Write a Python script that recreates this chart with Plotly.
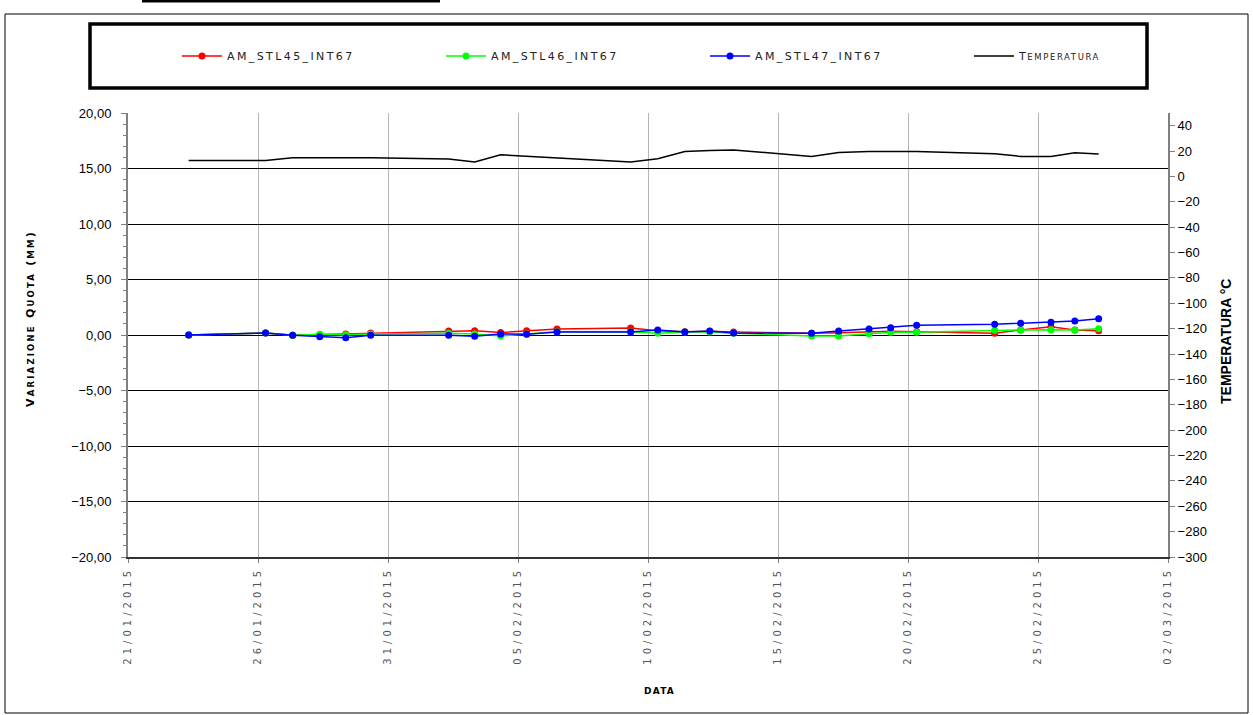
import plotly.graph_objects as go

# ---- data ----
dates = ["2015-01-23 08:00", "2015-01-26 07:00", "2015-01-27 08:00", "2015-01-28 09:00",
         "2015-01-29 09:00", "2015-01-30 08:00", "2015-02-02 08:00", "2015-02-03 08:00",
         "2015-02-04 08:00", "2015-02-05 08:00", "2015-02-06 12:00", "2015-02-09 08:00",
         "2015-02-10 09:00", "2015-02-11 10:00", "2015-02-12 09:00", "2015-02-13 07:00",
         "2015-02-16 07:00", "2015-02-17 08:00", "2015-02-18 12:00", "2015-02-19 08:00",
         "2015-02-20 08:00", "2015-02-23 08:00", "2015-02-24 08:00", "2015-02-25 12:00",
         "2015-02-26 10:00", "2015-02-27 08:00"]
stl45 = [0.00, 0.18, -0.03, 0.03, 0.09, 0.18, 0.36, 0.39, 0.22, 0.39, 0.54, 0.63, 0.39,
         0.30, 0.33, 0.27, 0.15, 0.20, 0.30, 0.33, 0.30, 0.15, 0.45, 0.75, 0.45, 0.39]
stl46 = [0.00, 0.18, -0.03, 0.06, 0.03, 0.09, 0.15, 0.09, -0.09, 0.09, 0.30, 0.30, 0.15,
         0.27, 0.27, 0.15, -0.08, -0.09, 0.12, 0.24, 0.24, 0.42, 0.45, 0.48, 0.45, 0.57]
stl47 = [0.00, 0.18, -0.03, -0.15, -0.24, -0.03, -0.03, -0.12, 0.09, 0.06, 0.27, 0.27, 0.45,
         0.27, 0.36, 0.18, 0.15, 0.36, 0.54, 0.66, 0.87, 0.96, 1.05, 1.14, 1.26, 1.47]

temp_dates = ["2015-01-23 08:00", "2015-01-26 07:00", "2015-01-27 08:00", "2015-01-30 08:00",
              "2015-02-02 08:00", "2015-02-03 08:00", "2015-02-04 08:00", "2015-02-09 08:00",
              "2015-02-10 09:00", "2015-02-11 10:00", "2015-02-12 09:00", "2015-02-13 07:00",
              "2015-02-16 07:00", "2015-02-17 08:00", "2015-02-18 12:00", "2015-02-20 08:00",
              "2015-02-23 08:00", "2015-02-24 08:00", "2015-02-25 12:00", "2015-02-26 10:00",
              "2015-02-27 08:00"]
temperature = [12.6, 12.6, 14.7, 14.7, 13.7, 11.3, 17.1, 11.3, 14.0, 19.7, 20.5, 20.8,
               15.8, 18.9, 19.7, 19.7, 17.9, 15.8, 15.8, 18.6, 17.6]

tick_dates = ["2015-01-21", "2015-01-26", "2015-01-31", "2015-02-05", "2015-02-10",
              "2015-02-15", "2015-02-20", "2015-02-25", "2015-03-02"]
tick_labels = ["21/01/2015", "26/01/2015", "31/01/2015", "05/02/2015", "10/02/2015",
               "15/02/2015", "20/02/2015", "25/02/2015", "02/03/2015"]

series_names = ["AM_STL45_INT67", "AM_STL46_INT67", "AM_STL47_INT67"]
series_values = [stl45, stl46, stl47]
series_colors = ["#ff0000", "#00ff00", "#0000ff"]

FONT = "DejaVu Sans"

# pixel -> paper helpers (plot area 128..1168 x, 113..557 y)
def px(x):
    return (x - 128) / 1040.0

def py(y):
    return (557 - y) / 444.0

legend_ids = ["legend", "legend2", "legend3", "legend4"]
legend_x = [177, 441, 705, 969]

fig = go.Figure()
for i, (name, vals, col) in enumerate(zip(series_names, series_values, series_colors)):
    fig.add_trace(go.Scatter(
        x=dates, y=vals, mode="lines+markers",
        name="<span style='letter-spacing:2.4px'>" + name + "</span>",
        legend=legend_ids[i],
        line=dict(color=col, width=1.5),
        marker=dict(color=col, size=7, symbol="circle"),
    ))
fig.add_trace(go.Scatter(
    x=temp_dates, y=temperature, mode="lines", yaxis="y2",
    legend=legend_ids[3],
    name="<span style='letter-spacing:1.6px'>T<span style='font-size:8.5px'>EMPERATURA</span></span>",
    line=dict(color="#000000", width=1.5),
))

legend_style = dict(orientation="h", xanchor="left", y=py(56), yanchor="middle",
                    font=dict(family=FONT, size=11, color="#222222"),
                    bgcolor="rgba(0,0,0,0)", borderwidth=0, itemwidth=40)
legends = {}
for lid, lx in zip(legend_ids, legend_x):
    legends[lid] = dict(legend_style, x=px(lx))

shapes = [
    dict(type="rect", xref="paper", yref="paper", x0=px(5), x1=px(1248), y0=py(713), y1=py(14),
         line=dict(color="#000000", width=1)),
    dict(type="rect", xref="paper", yref="paper", x0=px(90), x1=px(1147), y0=py(88), y1=py(24),
         line=dict(color="#000000", width=3.5)),
    dict(type="line", xref="paper", yref="paper", x0=px(142), x1=px(440), y0=py(1), y1=py(1),
         line=dict(color="#000000", width=3)),
]

annotations = [
    dict(xref="paper", yref="paper", x=px(30), y=py(319), textangle=-90, showarrow=False,
         xanchor="center", yanchor="middle",
         text="<b><span style='letter-spacing:2.2px'>V<span style='font-size:8.5px'>ARIAZIONE</span> Q<span style='font-size:8.5px'>UOTA</span> (<span style='font-size:8.5px'>MM</span>)</span></b>",
         font=dict(family=FONT, size=11, color="#000")),
    dict(xref="paper", yref="paper", x=px(659), y=py(691), showarrow=False,
         xanchor="center", yanchor="middle",
         text="<b><span style='letter-spacing:1.2px'>DATA</span></b>",
         font=dict(family=FONT, size=9, color="#000")),
    dict(xref="paper", yref="paper", x=px(1226), y=py(342), textangle=-90, showarrow=False,
         xanchor="center", yanchor="middle",
         text="<b>TEMPERATURA °C</b>",
         font=dict(family="Liberation Sans", size=14, color="#000")),
]

fig.update_layout(
    width=1253, height=715,
    margin=dict(l=128, r=85, t=113, b=158),
    paper_bgcolor="white", plot_bgcolor="white",
    separators=",.",
    showlegend=True,
    shapes=shapes,
    annotations=annotations,
    xaxis=dict(
        type="date", range=["2015-01-21", "2015-03-02"],
        tickmode="array", tickvals=tick_dates,
        ticktext=["<span style='letter-spacing:4px'>" + t + "</span>" for t in tick_labels],
        tickangle=-90, tickfont=dict(family=FONT, size=10, color="#555555"),
        ticks="outside", ticklen=4, tickcolor="#808080",
        showgrid=True, gridcolor="#b4b4b4", gridwidth=1,
        showline=True, linecolor="#333333", linewidth=2,
        zeroline=False,
    ),
    yaxis=dict(
        range=[-20, 20], dtick=5, tick0=0, tickformat=".2f",
        tickfont=dict(family="Liberation Sans", size=13, color="#000"),
        ticks="outside", ticklen=5, tickcolor="#808080", ticklabelstandoff=7,
        minor=dict(ticks="outside", dtick=1, ticklen=3, tickcolor="#808080", showgrid=False),
        showgrid=True, gridcolor="#000000", gridwidth=1,
        zeroline=True, zerolinecolor="#000000", zerolinewidth=1,
        showline=True, linecolor="#808080", linewidth=2,
    ),
    yaxis2=dict(
        overlaying="y", side="right", range=[-300, 50], dtick=20, tick0=0,
        tickfont=dict(family="Liberation Sans", size=13, color="#000"),
        ticks="outside", ticklen=5, tickcolor="#808080",
        showgrid=False, zeroline=False,
        showline=True, linecolor="#808080", linewidth=2,
    ),
    **legends,
)

fig.write_html("out.html", config={"displayModeBar": False},
               post_script="document.body.style.margin='0px';")
